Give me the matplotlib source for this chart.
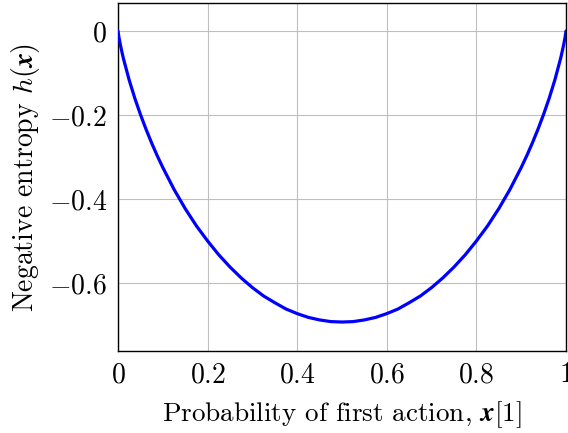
import matplotlib
matplotlib.use("Agg")
import matplotlib.pyplot as plt

plt.rcParams['font.family'] = 'serif'
plt.rcParams['font.serif'] = ['cmr10']
plt.rcParams['mathtext.fontset'] = 'cm'
plt.rcParams['axes.formatter.use_mathtext'] = True

# Values (left half, symmetric about 0.5)
x_left = [0.0, 0.002, 0.005, 0.01, 0.0125, 0.025, 0.0375, 0.05, 0.0625, 0.075, 0.0875,
          0.1, 0.125, 0.15, 0.175, 0.2, 0.225, 0.25, 0.275, 0.3, 0.325, 0.35,
          0.375, 0.4, 0.425, 0.45, 0.475, 0.5]
h_left = [0.0, -0.0144, -0.0315, -0.056, -0.0672, -0.1169, -0.160, -0.1985, -0.2338, -0.2664, -0.2968,
          -0.3251, -0.377, -0.423, -0.464, -0.500, -0.533, -0.562, -0.588, -0.611, -0.631, -0.647,
          -0.662, -0.673, -0.682, -0.688, -0.692, -0.693]

x_vals = x_left + [1.0 - v for v in reversed(x_left[:-1])]
h_vals = h_left + list(reversed(h_left[:-1]))

xticks = [0, 0.2, 0.4, 0.6, 0.8, 1]
xticklabels = ['$0$', '$0.2$', '$0.4$', '$0.6$', '$0.8$', '$1$']
yticks = [0, -0.2, -0.4, -0.6]
yticklabels = ['$0$', '$-0.2$', '$-0.4$', '$-0.6$']

fig = plt.figure(figsize=(5.68, 4.33), dpi=100)
ax = fig.add_axes([118/568, (433-351)/433, (566-118)/568, (351-3)/433])

ax.plot(x_vals, h_vals, color=(0, 0, 1), lw=2.3, solid_capstyle='round',
        solid_joinstyle='round', zorder=3)

ax.set_xlim(0, 1)
ax.set_ylim(-0.762, 0.0667)
ax.set_xticks(xticks)
ax.set_xticklabels(xticklabels)
ax.set_yticks(yticks)
ax.set_yticklabels(yticklabels)
ax.grid(True, color='#bfbfbf', lw=0.8)
ax.set_axisbelow(True)
ax.tick_params(length=0, labelsize=20, pad=8)
for s in ax.spines.values():
    s.set_linewidth(1.0)
    s.set_color('black')

ax.set_xlabel(r'Probability of first action, $\boldsymbol{x}[1]$', fontsize=19.5, labelpad=8)
ax.set_ylabel(r'Negative entropy $h(\boldsymbol{x})$', fontsize=20, labelpad=5)

fig.savefig('out.png', dpi=100)
